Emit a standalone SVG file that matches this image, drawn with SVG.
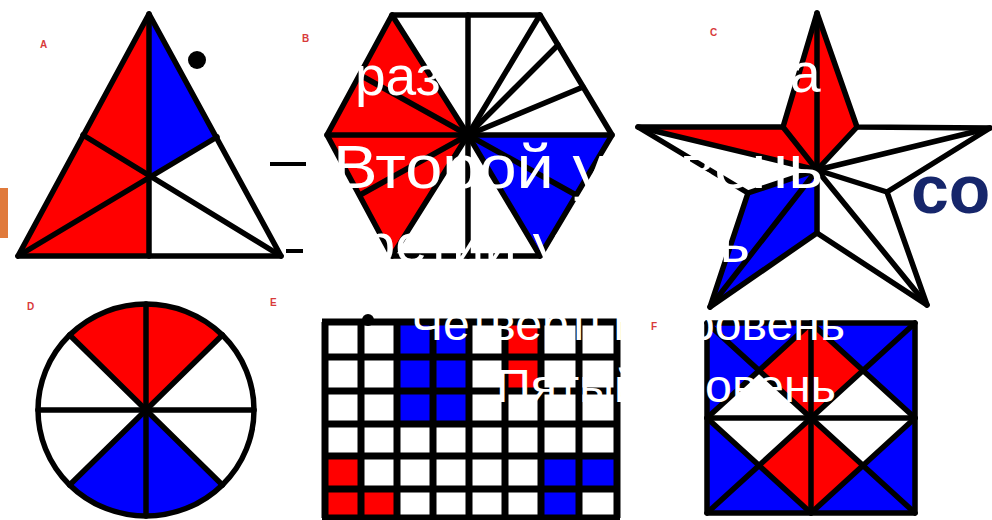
<svg xmlns="http://www.w3.org/2000/svg" width="992" height="520" viewBox="0 0 992 520">
<style>
.r{fill:#ff0000}
.b{fill:#0000ff}
.w{fill:#ffffff}
.ln{stroke:#000;stroke-width:5.5;fill:none;stroke-linecap:round;stroke-linejoin:round}
.gl{stroke:#000;stroke-width:7;fill:none}
.lbl{font-family:"Liberation Sans",Arial,sans-serif;font-size:10px;font-weight:bold;fill:#d83a3a}
.ov{font-family:"Liberation Sans",Arial,sans-serif;fill:#ffffff}
</style>
<rect x="0" y="0" width="992" height="520" fill="#ffffff"/>
<rect x="0" y="188" width="8" height="50" fill="#e07a3c"/>

<g id="triangle-a">
  <polygon class="r" points="149,14 18,256 149,256"/>
  <polygon class="b" points="149,14 217,137 149,177"/>
  <polygon class="ln" points="149,14 18,256 281,256"/>
  <line class="ln" x1="149" y1="14" x2="149" y2="256"/>
  <line class="ln" x1="83" y1="135" x2="281" y2="256"/>
  <line class="ln" x1="217" y1="137" x2="18" y2="256"/>
  <text class="lbl" x="40" y="48">A</text>
</g>

<g id="hexagon-b">
  <polygon class="r" points="392,15 327,135 468,135"/>
  <polygon class="r" points="327,135 392,256 468,135"/>
  <polygon class="b" points="468,135 612,135 540,256"/>
  <polygon class="ln" points="392,15 540,15 612,135 540,256 392,256 327,135"/>
  <line class="ln" x1="468" y1="15" x2="468" y2="256"/>
  <line class="ln" x1="327" y1="135" x2="612" y2="135"/>
  <line class="ln" x1="468" y1="135" x2="392" y2="15"/>
  <line class="ln" x1="468" y1="135" x2="540" y2="15"/>
  <line class="ln" x1="468" y1="135" x2="392" y2="256"/>
  <line class="ln" x1="468" y1="135" x2="540" y2="256"/>
  <line class="ln" x1="468" y1="135" x2="360" y2="75"/>
  <line class="ln" x1="468" y1="135" x2="360" y2="195"/>
  <line class="ln" x1="468" y1="135" x2="576" y2="195"/>
  <line class="ln" x1="468" y1="135" x2="558" y2="45"/>
  <line class="ln" x1="468" y1="135" x2="583" y2="87"/>
  <text class="lbl" x="302" y="42">B</text>
</g>

<g id="star-c">
  <polygon class="r" points="817,13 783,127 817,170 857,127"/>
  <polygon class="r" points="638,127 783,127 817,170"/>
  <polygon class="b" points="710,307 748,193 817,170 817,233"/>
  <polygon class="ln" points="817,13 857,127 990,128 887,192 927,305 817,233 710,307 748,193 638,127 783,127"/>
  <line class="ln" x1="817" y1="170" x2="817" y2="13"/>
  <line class="ln" x1="817" y1="170" x2="990" y2="128"/>
  <line class="ln" x1="817" y1="170" x2="927" y2="305"/>
  <line class="ln" x1="817" y1="170" x2="710" y2="307"/>
  <line class="ln" x1="817" y1="170" x2="638" y2="127"/>
  <line class="ln" x1="817" y1="170" x2="857" y2="127"/>
  <line class="ln" x1="817" y1="170" x2="887" y2="192"/>
  <line class="ln" x1="817" y1="170" x2="817" y2="233"/>
  <line class="ln" x1="817" y1="170" x2="748" y2="193"/>
  <line class="ln" x1="817" y1="170" x2="783" y2="127"/>
  <text class="lbl" x="710" y="36">C</text>
</g>

<g id="circle-d">
  <path class="r" d="M146,410 L69.6,335 A108,106 0 0 1 222.4,335 Z"/>
  <path class="b" d="M146,410 L222.4,485 A108,106 0 0 1 69.6,485 Z"/>
  <ellipse class="ln" cx="146" cy="410" rx="108" ry="106"/>
  <line class="ln" x1="146" y1="304" x2="146" y2="516"/>
  <line class="ln" x1="38" y1="410" x2="254" y2="410"/>
  <line class="ln" x1="69.6" y1="335" x2="222.4" y2="485"/>
  <line class="ln" x1="222.4" y1="335" x2="69.6" y2="485"/>
  <text class="lbl" x="27" y="310">D</text>
</g>

<g id="grid-e">
  <rect class="w" x="325" y="322" width="292" height="196"/>
  <rect class="b" x="397" y="322" width="72" height="102"/>
  <rect class="r" x="505" y="322" width="36" height="69"/>
  <rect class="r" x="325" y="456" width="36" height="62"/>
  <rect class="r" x="361" y="489" width="36" height="29"/>
  <rect class="b" x="541" y="456" width="76" height="33"/>
  <rect class="b" x="541" y="489" width="38" height="29"/>
  <path class="gl" d="M325,322V518M361,322V518M397,322V518M433,322V518M469,322V518M505,322V518M541,322V518M579,322V518M617,322V518"/>
  <path class="gl" d="M322,322H620M322,357H620M322,391H620M322,424H620M322,456H620M322,489H620M322,518H620"/>
  <text class="lbl" x="270" y="306">E</text>
</g>

<g id="square-f">
  <rect class="b" x="707" y="323" width="208" height="190"/>
  <polygon class="r" points="811,418 759,370.5 811,323 863,370.5"/>
  <polygon class="r" points="811,418 863,465.5 811,513 759,465.5"/>
  <polygon class="w" points="811,418 759,370.5 707,418 759,465.5"/>
  <polygon class="w" points="811,418 863,370.5 915,418 863,465.5"/>
  <rect class="ln" x="707" y="323" width="208" height="190"/>
  <line class="ln" x1="707" y1="323" x2="915" y2="513"/>
  <line class="ln" x1="915" y1="323" x2="707" y2="513"/>
  <line class="ln" x1="811" y1="323" x2="811" y2="513"/>
  <line class="ln" x1="707" y1="418" x2="915" y2="418"/>
  <polygon class="ln" points="811,323 915,418 811,513 707,418"/>
  <text class="lbl" x="651" y="330">F</text>
</g>

<g id="overlay-text">
  <circle cx="197" cy="60" r="9" fill="#000"/>
  <text class="ov" x="355" y="95" font-size="55">раз</text>
  <text class="ov" x="790" y="92" font-size="55">а</text>
  <rect x="270" y="162" width="36" height="4" fill="#000"/>
  <text class="ov" x="333" y="188" font-size="62" textLength="490" lengthAdjust="spacingAndGlyphs">Второй уровень</text>
  <rect x="286" y="249" width="17" height="4" fill="#000"/>
  <text class="ov" x="331" y="262" font-size="54" textLength="419" lengthAdjust="spacingAndGlyphs">Третий уровень</text>
  <circle cx="368" cy="320" r="6" fill="#000"/>
  <text class="ov" x="411" y="340" font-size="46" textLength="434" lengthAdjust="spacingAndGlyphs">Четвертый уровень</text>
  <text class="ov" x="496" y="402" font-size="46" textLength="340" lengthAdjust="spacingAndGlyphs">Пятый уровень</text>
  <text x="911" y="213" font-family="'Liberation Sans',Arial,sans-serif" font-size="68" font-weight="bold" fill="#16266b">сос</text>
</g>
</svg>
